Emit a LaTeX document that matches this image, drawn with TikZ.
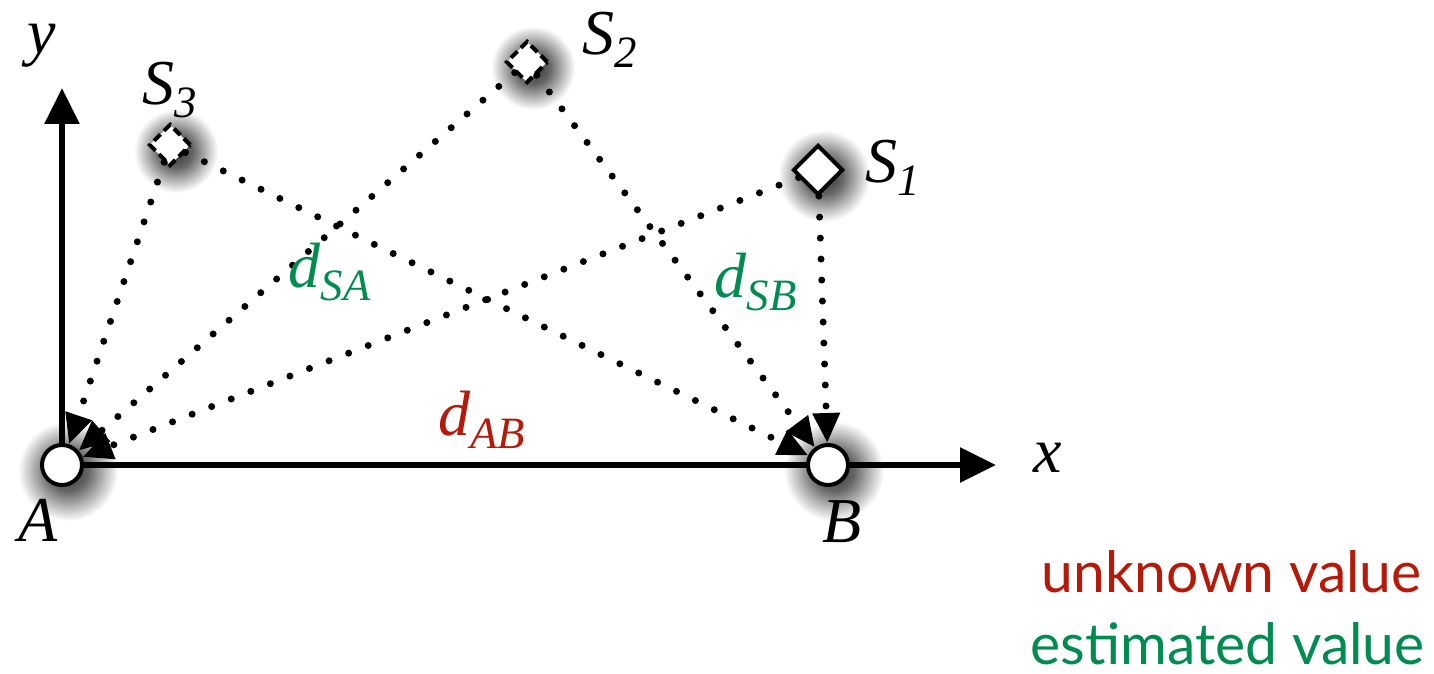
\documentclass[tikz,border=0pt]{standalone}
\usepackage{fontspec}
\newfontfamily\labelfont{Liberation Serif}
\newfontfamily\legendfont{Lato}
\usetikzlibrary{arrows.meta,shapes.geometric}
\definecolor{unkred}{RGB}{180,25,10}
\definecolor{estgreen}{RGB}{0,140,80}
\pgfdeclareradialshading{glow}{\pgfpoint{0bp}{0bp}}{color(0bp)=(black!80); color(10bp)=(black!60); color(25bp)=(white); color(50bp)=(white)}

\begin{document}
\begin{tikzpicture}[x=0.5pt, y=-0.5pt, every node/.style={font=\fontsize{32}{38}\selectfont\labelfont\itshape},
	>={Triangle[length=15pt, width=13pt]},
	axis/.style={line width=3pt, -{Triangle[length=18pt, width=17pt]}},
	dist/.style={->, line width=3.5pt, line cap=round, dash pattern=on 0pt off 10.5pt},
	anchorpt/.style={circle, draw, fill=white, line width=2pt, minimum size=20pt, inner sep=0pt},
	source/.style={diamond, draw, fill=white, line width=2pt, minimum size=25pt, inner sep=0pt},
	sourcedash/.style={source, minimum size=21pt, dash pattern=on 4.5pt off 2.5pt},
	glowshade/.style={shading=glow},
	legend/.style={font=\fontsize{28.5}{34}\selectfont\legendfont\upshape, anchor=base east, inner sep=0pt}]
	\useasboundingbox (0,0) rectangle (1434,674);
	% soft shadows
	\foreach \p/\r in {{(68,471)}/50, {(834,471)}/50, {(824,176)}/46, {(533,68)}/42, {(176,151)}/42}
		\shade[glowshade] \p circle (\r);
	% axes
	\coordinate (O) at (62,465);
	\coordinate (xend) at (996,465);
	\coordinate (yend) at (62,88);
	\draw[axis] (O) -- (xend);
	\draw[axis] (O) -- (yend);
	\node (xlab) at (1048,458) {x};
	\node (ylab) at (42,46) {y};
	% anchors and sources
	\node[anchorpt] (A) at (O) {};
	\node[anchorpt] (B) at (828,465) {};
	\node[source] (S1) at (818,170) {};
	\node[sourcedash] (S2) at (527,62) {};
	\node[sourcedash] (S3) at (170,145) {};
	\node (Alab) at (38,520) {A};
	\node (Blab) at (842,522) {B};
	\node (S1lab) at (893,168) {S\textsubscript{1}};
	\node (S2lab) at (610,40) {S\textsubscript{2}};
	\node (S3lab) at (170,90) {S\textsubscript{3}};
	% distances
	\foreach \s in {S1,S2,S3} {\draw[dist] (\s) -- (A); \draw[dist] (\s) -- (B);}
	\node[estgreen] (dSA) at (330,272) {d\textsubscript{SA}};
	\node[estgreen] (dSB) at (756,282) {d\textsubscript{SB}};
	\node[unkred] (dAB) at (482,420) {d\textsubscript{AB}};
	% legend
	\node[legend, unkred] (unk) at (1422,592) {unknown value};
	\node[legend, estgreen] (est) at (1425,664) {estimated value};
\end{tikzpicture}
\end{document}
